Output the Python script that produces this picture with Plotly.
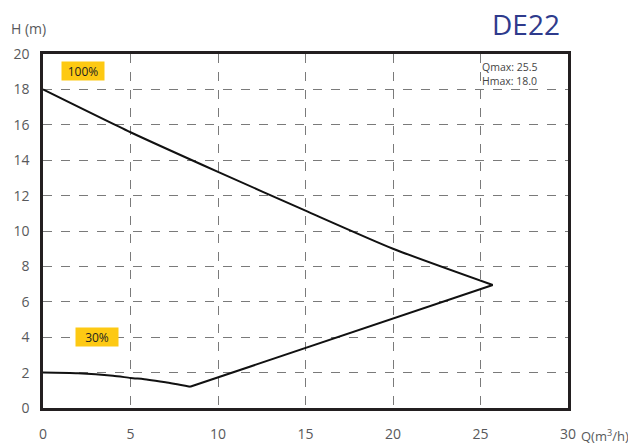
import plotly.graph_objects as go

# Data
q_100 = [0, 5, 10, 15, 20, 25.7]
h_100 = [18.0, 15.58, 13.34, 11.15, 9.0, 6.95]
q_30 = [25.7, 15, 8.4, 7, 6, 5, 4, 2, 0]
h_30 = [6.95, 3.39, 1.2, 1.45, 1.6, 1.7, 1.82, 1.96, 2.0]
x_ticks = [0, 5, 10, 15, 20, 25, 30]
y_ticks = [0, 2, 4, 6, 8, 10, 12, 14, 16, 18, 20]
title_text = "DE22"
info_lines = ["Qmax: 25.5", "Hmax: 18.0"]
labels = ["100%", "30%"]
label_pos = [(2.3, 19.05), (3.1, 4.0)]

fig = go.Figure()
fig.add_trace(go.Scatter(x=q_100, y=h_100, mode="lines",
                         line=dict(color="#111111", width=2, shape="spline", smoothing=0.6),
                         showlegend=False, hoverinfo="skip"))
fig.add_trace(go.Scatter(x=q_30[:3], y=h_30[:3], mode="lines",
                         line=dict(color="#111111", width=2), showlegend=False,
                         hoverinfo="skip"))
fig.add_trace(go.Scatter(x=q_30[2:], y=h_30[2:], mode="lines",
                         line=dict(color="#111111", width=2, shape="spline", smoothing=0.6),
                         showlegend=False, hoverinfo="skip"))

font_family = "Open Sans, Liberation Sans, sans-serif"
tick_font = dict(family=font_family, size=14, color="#58595b")

# page body has an 8px margin; figure is sized to fit the 636x444 window
fig.update_layout(
    width=628, height=436,
    margin=dict(l=35, r=68, t=46, b=36),
    paper_bgcolor="white", plot_bgcolor="white",
    showlegend=False,
    xaxis=dict(range=[0, 30], tickvals=x_ticks, ticks="", showgrid=True,
               gridcolor="#7a7a7a", griddash="dash", gridwidth=1.3,
               showline=True, linecolor="#231f20", linewidth=2.5, mirror=True,
               zeroline=False, tickfont=tick_font, ticklabelstandoff=11,
               automargin=False),
    yaxis=dict(range=[0, 20], tickvals=y_ticks, ticks="", showgrid=True,
               gridcolor="#7a7a7a", griddash="dash", gridwidth=1.3,
               showline=True, linecolor="#231f20", linewidth=2.5, mirror=True,
               zeroline=False, tickfont=tick_font, ticklabelstandoff=8,
               automargin=False),
)

annotations = [
    dict(text=title_text, xref="paper", yref="paper", x=0.92, y=1.0, yshift=30,
         xanchor="center", yanchor="middle", showarrow=False,
         font=dict(family=font_family, size=28, color="#2e3a8c")),
    dict(text="H (m)", xref="paper", yref="paper", x=0, xshift=-34, y=1.0, yshift=26,
         xanchor="left", yanchor="middle", showarrow=False,
         font=dict(family=font_family, size=14, color="#58595b")),
    dict(text="Q(m<sup>3</sup>/h)", xref="paper", yref="paper", x=1.0, xshift=11, y=0, yshift=-27,
         xanchor="left", yanchor="middle", showarrow=False,
         font=dict(family=font_family, size=13, color="#58595b")),
]
for i, line in enumerate(info_lines):
    annotations.append(dict(text=line, xref="paper", yref="paper", x=1.0, xshift=-88,
                            y=1.0, yshift=-13 - 14 * i, xanchor="left", yanchor="middle",
                            showarrow=False,
                            font=dict(family=font_family, size=10.5, color="#444444")))
for lab, (lx, ly) in zip(labels, label_pos):
    annotations.append(dict(text=lab, x=lx, y=ly, xref="x", yref="y", showarrow=False,
                            bgcolor="#fdc913", width=38, height=14, borderpad=2,
                            font=dict(family=font_family, size=12, color="#231f20")))
fig.update_layout(annotations=annotations)

fig.write_html("out.html")
